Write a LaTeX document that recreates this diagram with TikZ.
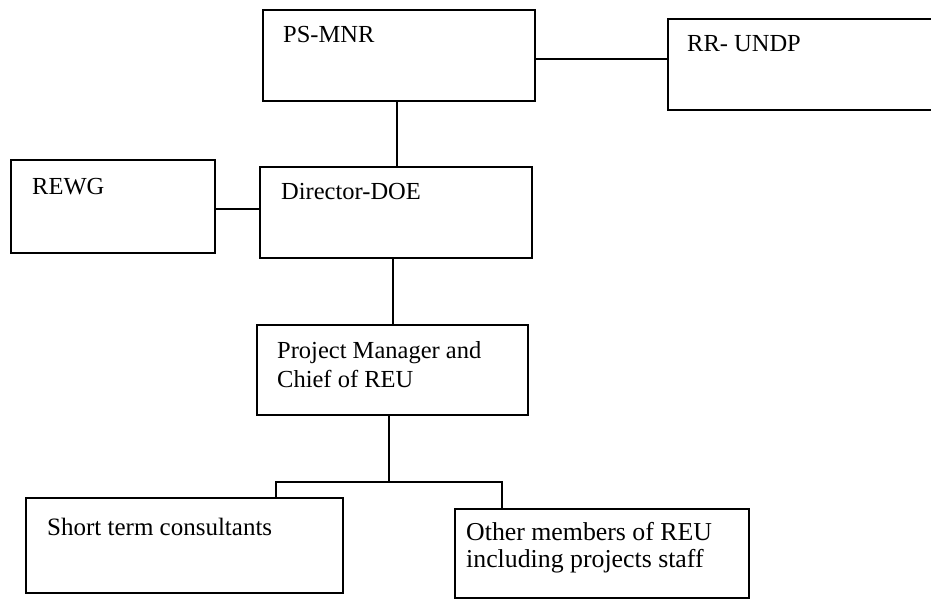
\documentclass[tikz,border=0pt]{standalone}
\usepackage{fontspec}
\setmainfont{Liberation Serif}
\begin{document}
\begin{tikzpicture}[x=1pt,y=-1pt,
  box/.style={draw, line width=1.8pt, anchor=north west, inner sep=0pt, outer sep=0pt},
  txt/.style={anchor=base west, inner sep=0pt, align=left, font=\fontsize{24.5}{28}\selectfont},
  conn/.style={line width=1.8pt}]
\clip (0,0) rectangle (931,602);
% boxes
\node[box, minimum width=272pt, minimum height=91pt] (ps) at (263,10) {};
\node[box, minimum width=290pt, minimum height=91pt] (rr) at (668,19) {};
\node[box, minimum width=204pt, minimum height=93pt] (rewg) at (11,160) {};
\node[box, minimum width=272pt, minimum height=91pt] (dir) at (260,167) {};
\node[box, minimum width=271pt, minimum height=90pt] (pm) at (257,325) {};
\node[box, minimum width=317pt, minimum height=95pt] (short) at (26,498) {};
\node[box, minimum width=294pt, minimum height=89pt] (other) at (455,509) {};
% texts
\node[txt] (psT) at (283,43) {PS-MNR};
\node[txt] (rrT) at (687,52) {RR- UNDP};
\node[txt] (rewgT) at (32,194) {REWG};
\node[txt] (dirT) at (281,199) {Director-DOE};
\node[txt, font=\fontsize{24.5}{29}\selectfont] (pmT) at (277,387) {Project Manager and\\Chief of REU};
\node[txt, font=\fontsize{25}{28}\selectfont] (shortT) at (47,535) {Short term consultants};
\node[txt, font=\fontsize{25.8}{27}\selectfont] (otherT) at (466,567) {Other members of REU\\including projects staff};
% connectors
\coordinate (jl) at (276,482);
\coordinate (jm) at (389,482);
\coordinate (jr) at (502,482);
\draw[conn] (ps.east |- 0,59) -- (rr.west |- 0,59);
\draw[conn] (ps.south -| 397,0) -- (dir.north -| 397,0);
\draw[conn] (rewg.east |- 0,209) -- (dir.west |- 0,209);
\draw[conn] (dir.south -| 393,0) -- (pm.north -| 393,0);
\draw[conn] (pm.south -| jm) -- (jm);
\draw[conn] (short.north -| jl) -- (jl) -- (jr) -- (other.north -| jr);
\end{tikzpicture}
\end{document}
